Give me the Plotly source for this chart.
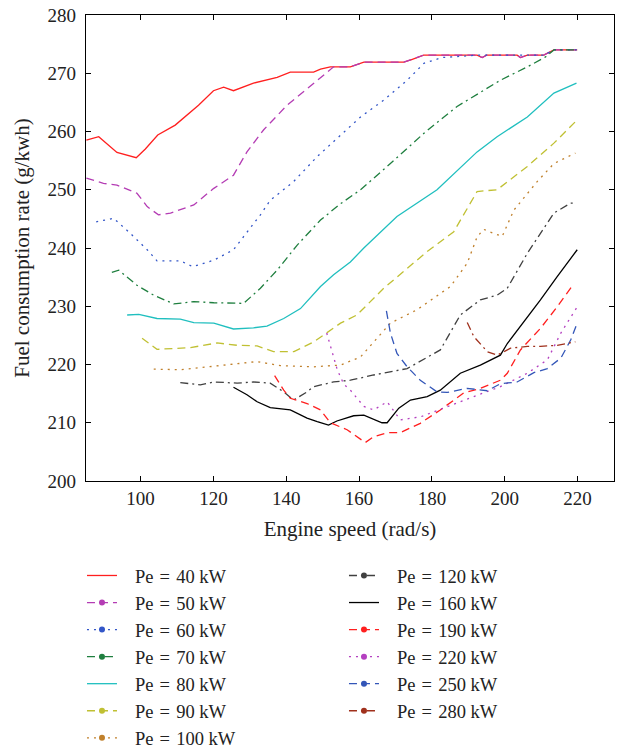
import plotly.graph_objects as go

# ---- data ----
pe40_x = [85.1, 88.5, 93.5, 97.2, 98.8, 101.3, 104.7, 109.5, 115.9, 120.0, 122.8, 125.5, 131.0, 137.5, 141.1, 147.5, 149.4, 152.1, 157.6, 161.3, 172.3, 174.6, 177.7, 192.4, 193.8, 195.0, 203.4, 204.3, 206.2, 210.7, 213.5, 219.9]
pe40_y = [258.5, 259.1, 256.4, 255.7, 255.5, 257.0, 259.4, 261.1, 264.5, 267.0, 267.6, 267.0, 268.3, 269.3, 270.2, 270.2, 270.7, 271.1, 271.1, 271.9, 271.9, 272.4, 273.1, 273.1, 272.7, 273.1, 273.1, 272.7, 273.1, 273.1, 274.0, 274.0]

pe50_x = [85.1, 89.8, 93.5, 99.0, 101.8, 104.9, 108.2, 114.6, 120.0, 125.5, 129.2, 133.8, 140.2, 147.5, 153.0, 157.6, 161.3, 172.3, 174.6, 177.7, 192.4, 193.8, 195.0, 203.4, 204.3, 206.2, 210.7, 213.5, 219.9]
pe50_y = [252.0, 251.1, 250.8, 249.4, 247.1, 245.7, 246.0, 247.4, 250.2, 252.5, 256.5, 260.3, 264.5, 268.3, 271.1, 271.1, 271.9, 271.9, 272.4, 273.1, 273.1, 272.7, 273.1, 273.1, 272.7, 273.1, 273.1, 274.0, 274.0]

pe60_x = [87.8, 92.6, 97.2, 101.8, 104.5, 110.9, 114.3, 120.1, 125.5, 129.2, 132.9, 135.6, 142.0, 148.5, 154.9, 160.4, 166.8, 173.2, 177.8, 182.8, 192.4, 195.0, 203.4, 206.2, 210.7, 213.5, 219.9]
pe60_y = [244.5, 245.1, 242.5, 239.7, 237.8, 237.8, 236.8, 237.9, 239.7, 242.8, 245.7, 248.2, 251.4, 255.7, 259.4, 262.5, 265.4, 268.8, 271.7, 272.7, 273.1, 273.1, 273.1, 273.1, 273.1, 274.0, 274.0]

pe70_x = [92.1, 94.0, 99.0, 103.6, 109.1, 114.6, 120.1, 128.3, 132.9, 137.5, 143.0, 149.4, 154.9, 160.4, 168.6, 177.8, 186.9, 198.8, 206.2, 211.2, 213.5, 219.9]
pe70_y = [235.8, 236.2, 233.6, 231.9, 230.4, 230.8, 230.6, 230.5, 233.1, 236.2, 240.5, 244.8, 247.6, 250.0, 254.5, 259.7, 264.3, 268.8, 271.1, 272.8, 274.0, 274.0]

pe80_x = [96.3, 99.5, 104.5, 110.9, 114.6, 120.1, 125.5, 131.0, 134.7, 139.3, 143.9, 149.4, 153.0, 157.6, 161.3, 170.4, 181.4, 192.4, 197.9, 206.2, 213.5, 219.7]
pe80_y = [228.5, 228.6, 227.9, 227.8, 227.2, 227.1, 226.1, 226.3, 226.6, 227.9, 229.6, 233.4, 235.4, 237.6, 240.0, 245.4, 250.0, 256.5, 259.1, 262.5, 266.6, 268.3]

pe90_x = [100.4, 104.5, 113.7, 121.0, 126.5, 132.0, 136.5, 142.1, 147.6, 154.9, 159.4, 166.8, 178.7, 186.0, 192.4, 197.9, 206.2, 213.5, 219.9]
pe90_y = [224.5, 222.6, 222.9, 223.7, 223.3, 223.2, 222.2, 222.2, 223.9, 227.1, 228.5, 233.1, 239.4, 242.8, 249.7, 250.0, 254.0, 258.0, 262.0]

pe100_x = [103.6, 110.9, 120.1, 132.0, 138.4, 147.5, 154.9, 160.4, 168.6, 175.9, 185.1, 189.7, 192.4, 194.2, 197.0, 199.3, 202.5, 208.9, 213.5, 219.4]
pe100_y = [219.2, 219.1, 219.7, 220.5, 219.8, 219.6, 219.9, 221.3, 227.1, 229.4, 233.4, 237.4, 241.9, 243.2, 242.5, 242.0, 246.5, 251.4, 254.5, 256.3]

pe120_x = [110.9, 116.4, 120.1, 126.5, 131.0, 135.6, 139.3, 142.0, 145.7, 147.5, 153.0, 157.6, 164.0, 173.2, 182.3, 187.8, 193.3, 197.9, 200.7, 206.2, 213.5, 218.1, 219.0]
pe120_y = [216.9, 216.5, 217.0, 216.8, 217.0, 216.8, 215.3, 213.9, 215.3, 216.2, 217.0, 217.3, 218.2, 219.3, 222.5, 228.5, 231.1, 231.9, 233.1, 239.1, 246.0, 247.7, 247.7]

pe160_x = [125.5, 129.2, 132.0, 135.6, 141.1, 145.7, 148.5, 151.6, 153.9, 158.5, 161.3, 166.3, 167.7, 170.9, 174.1, 178.7, 182.3, 187.8, 193.3, 198.8, 200.7, 204.3, 209.8, 214.4, 219.9]
pe160_y = [216.1, 214.8, 213.6, 212.6, 212.2, 210.8, 210.2, 209.6, 210.3, 211.2, 211.3, 210.0, 210.0, 212.5, 213.9, 214.5, 215.6, 218.5, 219.9, 221.6, 223.6, 226.5, 231.1, 235.1, 239.7]

pe190_x = [136.8, 139.3, 141.1, 145.7, 149.4, 152.1, 156.7, 161.7, 164.0, 167.7, 171.3, 176.8, 182.3, 188.7, 193.3, 198.8, 200.7, 204.3, 209.8, 214.4, 219.0]
pe190_y = [218.1, 215.6, 214.2, 213.3, 212.2, 210.0, 208.8, 206.6, 207.6, 208.3, 208.3, 209.9, 212.2, 215.1, 215.9, 217.3, 218.5, 222.5, 226.2, 229.9, 233.9]

pe220_x = [151.1, 152.1, 154.0, 155.8, 157.6, 161.3, 164.0, 167.7, 171.3, 176.8, 184.2, 191.5, 198.8, 206.2, 211.7, 215.4, 219.9]
pe220_y = [225.4, 223.1, 219.1, 216.6, 215.6, 212.8, 212.2, 213.6, 210.5, 211.0, 212.8, 214.5, 216.2, 218.5, 220.8, 225.4, 229.9]

pe250_x = [167.5, 168.6, 170.4, 173.2, 176.8, 181.4, 184.2, 189.7, 195.2, 198.8, 203.4, 208.0, 211.7, 215.4, 218.1, 219.9]
pe250_y = [229.2, 225.4, 221.9, 219.6, 217.3, 215.3, 215.2, 215.9, 215.5, 216.7, 217.0, 218.6, 219.3, 221.1, 224.2, 227.1]

pe280_x = [189.7, 191.5, 195.2, 197.9, 201.6, 206.2, 209.8, 214.4, 219.4]
pe280_y = [227.2, 224.8, 222.2, 221.6, 222.8, 223.1, 223.1, 223.3, 223.9]

powers = ["40", "50", "60", "70", "80", "90", "100", "120", "160", "190", "220", "250", "280"]
labels = ["Pe\u2004=\u2004" + p + "\u2005kW" for p in powers]
xs = [pe40_x, pe50_x, pe60_x, pe70_x, pe80_x, pe90_x, pe100_x, pe120_x, pe160_x, pe190_x, pe220_x, pe250_x, pe280_x]
ys = [pe40_y, pe50_y, pe60_y, pe70_y, pe80_y, pe90_y, pe100_y, pe120_y, pe160_y, pe190_y, pe220_y, pe250_y, pe280_y]

# ---- styles ----
DASH = "8px,5px"
DOT = "2px,5px"
DASHDOT = "8px,4px,2px,4px"
colors = ["#ff1f1f", "#b43cb4", "#3356c8", "#1f7f3f", "#20bfbf", "#c0c033", "#c0802c",
          "#404040", "#000000", "#ff1f1f", "#b440c0", "#3356b8", "#a0301c"]
dashes = ["solid", DASH, DOT, DASHDOT, "solid", DASH, DOT,
          DASHDOT, "solid", DASH, DOT, DASH, DASHDOT]
has_marker = [False, True, True, True, False, True, True,
              True, False, True, True, True, True]

FONT = "Liberation Serif"
LEAD = "\u2002\u2009"   # gap between legend symbol and text
fig = go.Figure()

for i in range(len(labels)):
    fig.add_trace(go.Scatter(
        x=xs[i], y=ys[i], mode="lines", showlegend=False,
        line=dict(color=colors[i], width=1.3, dash=dashes[i]),
        hoverinfo="skip"))

for i in range(len(labels)):
    leg = "legend" if i < 7 else "legend2"
    fig.add_trace(go.Scatter(
        x=[None], y=[None],
        mode="lines+markers" if has_marker[i] else "lines",
        name=LEAD + labels[i], legend=leg,
        line=dict(color=colors[i], width=1.3, dash=dashes[i]),
        marker=dict(color=colors[i], size=6)))

axis_common = dict(
    showline=True, linecolor="black", linewidth=1.3, mirror="ticks",
    ticks="inside", ticklen=5, tickwidth=1.2, tickcolor="black",
    showgrid=False, zeroline=False,
    tickfont=dict(family=FONT, size=19, color="#222"))

fig.update_xaxes(range=[85, 230], tickvals=[100, 120, 140, 160, 180, 200, 220],
                 title=dict(text="Engine speed (rad/s)", font=dict(family=FONT, size=21, color="#222"), standoff=13),
                 ticklabelstandoff=0, **axis_common)
fig.update_yaxes(range=[200, 280], tickvals=[200, 210, 220, 230, 240, 250, 260, 270, 280],
                 title=dict(text="Fuel consumption rate (g/kwh)", font=dict(family=FONT, size=21, color="#222"), standoff=12),
                 ticklabelstandoff=5, **axis_common)

legend_common = dict(
    font=dict(family=FONT, size=18.5, color="#222"),
    bgcolor="rgba(0,0,0,0)", borderwidth=0,
    itemwidth=30, tracegroupgap=0, traceorder="normal",
    xanchor="left", yanchor="top")

fig.update_layout(
    width=621, height=750,
    margin=dict(l=86, r=7, t=15, b=269, autoexpand=False),
    plot_bgcolor="white", paper_bgcolor="white",
    font=dict(family=FONT, color="#222"),
    legend=dict(x=-0.0076, y=-0.163, **legend_common),
    legend2=dict(x=0.4886, y=-0.163, **legend_common),
)

fig.write_html("out.html")
